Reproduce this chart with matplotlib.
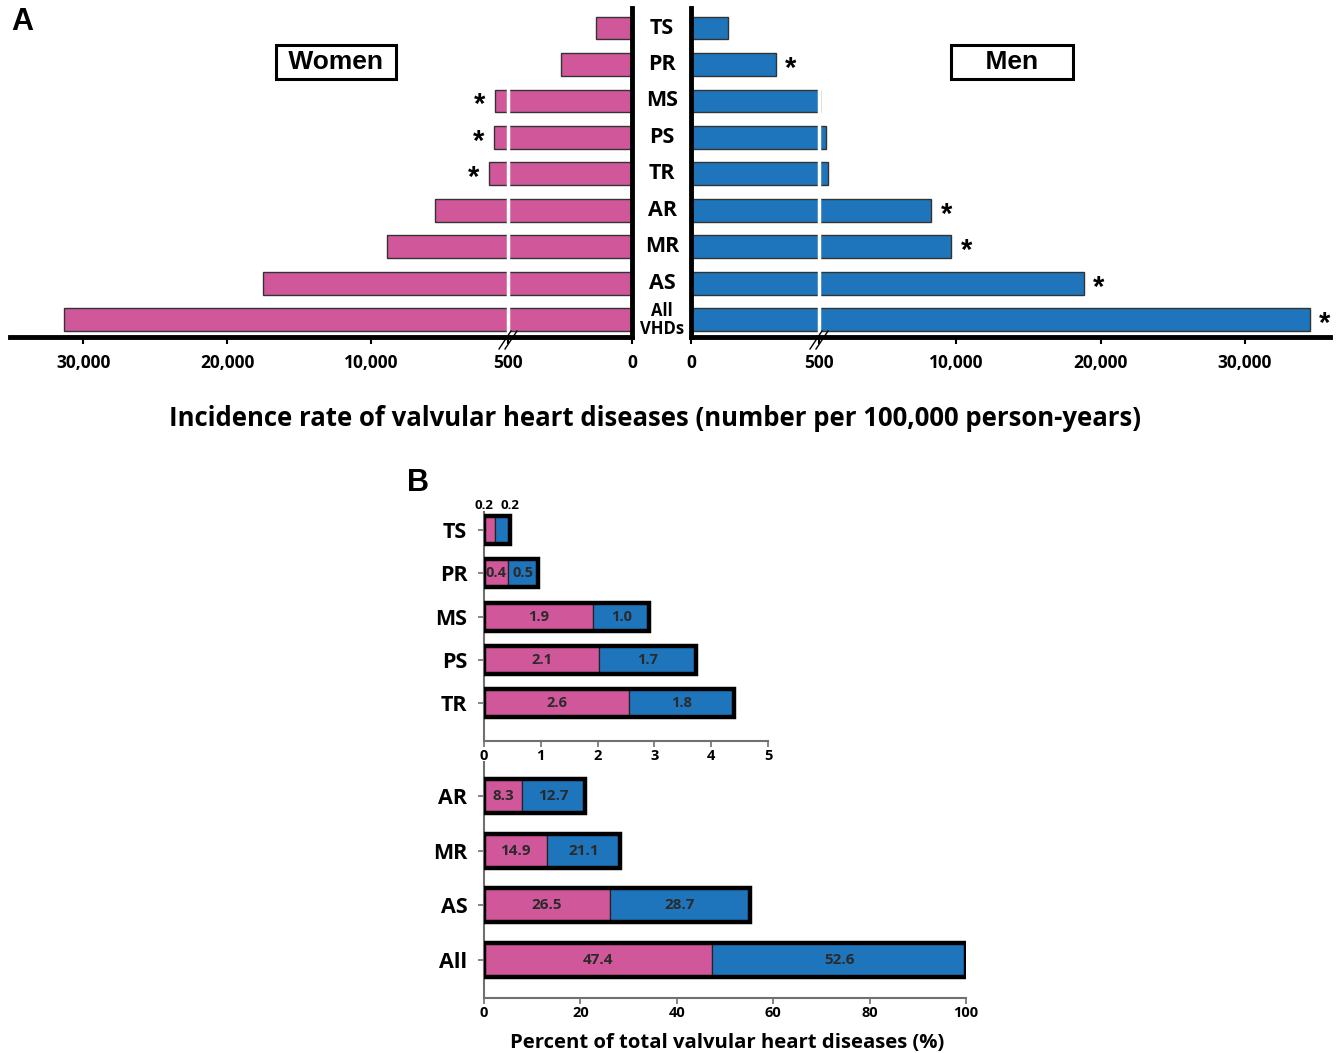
import numpy as np
import matplotlib
matplotlib.use('Agg')
import matplotlib.pyplot as plt
import matplotlib.transforms as mtransforms

plt.rcParams['font.family'] = ['Open Sans', 'DejaVu Sans']
plt.rcParams['font.weight'] = 'bold'

PINK = '#D1579B'
BLUE = '#1F75BB'

# ---- Panel A: incidence per 100,000 person-years ----
valves = ['TS', 'PR', 'MS', 'PS', 'TR', 'AR', 'MR', 'AS', 'All\nVHDs']
women_rate = [145, 286, 1400, 1470, 1820, 5570, 8900, 17500, 31300]
men_rate = [145, 332, 600, 990, 1130, 8280, 9670, 18830, 34500]
women_sig = [False, False, True, True, True, False, False, False, False]
men_sig = [False, True, False, False, False, True, True, True, True]
rate_ticks = [0, 500, 10000, 20000, 30000]
rate_tick_labels = ['0', '500', '10,000', '20,000', '30,000']

# ---- Panel B: percent of total VHDs ----
small_valves = ['TS', 'PR', 'MS', 'PS', 'TR']
small_women = [0.20, 0.42, 1.92, 2.03, 2.56]
small_men = [0.26, 0.53, 0.99, 1.70, 1.84]
small_women_lbl = ['0.2', '0.4', '1.9', '2.1', '2.6']
small_men_lbl = ['0.2', '0.5', '1.0', '1.7', '1.8']
big_valves = ['AR', 'MR', 'AS', 'All']
big_women = [7.9, 13.0, 26.2, 47.4]
big_men = [13.1, 15.2, 28.9, 52.6]
big_women_lbl = ['8.3', '14.9', '26.5', '47.4']
big_men_lbl = ['12.7', '21.1', '28.7', '52.6']


def broken(low, high):
    # 0-500 takes `low` units, every 10,000 above 500 takes `high` units
    def fwd(v):
        v = np.asarray(v, float)
        return np.where(v <= 500, v / 500 * low, low + (v - 500) / 10000 * high)

    def inv(u):
        u = np.asarray(u, float)
        return np.where(u <= low, u / low * 500, 500 + (u - low) / high * 10000)
    return fwd, inv


W, H = 1343, 1053
fig = plt.figure(figsize=(W / 100, H / 100), dpi=100)


def px_axes(x0, y0, x1, y1):
    return fig.add_axes([x0 / W, 1 - y1 / H, (x1 - x0) / W, (y1 - y0) / H])


ax_w = px_axes(10, 8, 632, 337)
ax_m = px_axes(691, 8, 1330, 337)

ypos = np.arange(len(valves))
for ax, vals, col, scl, lim in [(ax_w, women_rate, PINK, broken(124, 144), (35083, 0)),
                                (ax_m, men_rate, BLUE, broken(128, 144.4), (0, 35890))]:
    ax.set_xscale('function', functions=scl)
    ax.barh(ypos, vals, height=0.63, color=col, edgecolor='#333333', linewidth=1.0)
    ax.set_xlim(*lim)
    ax.set_ylim(len(valves) - 0.534, -0.548)
    ax.set_yticks([])
    ax.set_xticks(rate_ticks)
    ax.set_xticklabels(rate_tick_labels, fontsize=12.5, fontweight='bold')
    ax.tick_params(axis='x', direction='out', length=5, width=1.5, pad=7)
    for s in ax.spines.values():
        s.set_visible(False)
    ax.spines['bottom'].set_visible(True)
    ax.spines['bottom'].set_linewidth(3.5)
    ax.axvline(500, color='white', lw=2.5, zorder=2.2)

ax_w.spines['right'].set_visible(True)
ax_w.spines['right'].set_linewidth(3.5)
ax_m.spines['left'].set_visible(True)
ax_m.spines['left'].set_linewidth(3.5)


def break_marks(ax):
    xd = ax.transData.transform((500, 0))[0]
    xa = ax.transAxes.inverted().transform((xd, 0))[0]
    bw, bh = ax.bbox.width, ax.bbox.height
    for off in (-3, 3):
        xs = [xa + (off - 6) / bw, xa + (off + 6) / bw]
        ys = [-12 / bh, 6 / bh]
        ax.plot(xs, ys, color='black', lw=1.0, transform=ax.transAxes,
                clip_on=False, zorder=5)


break_marks(ax_w)
break_marks(ax_m)

# category names between the two halves
lab_tr = mtransforms.blended_transform_factory(fig.transFigure, ax_m.transData)
for i, v in enumerate(valves):
    fs = 15.5 if '\n' not in v else 12
    ax_m.text(662 / W, i, v, transform=lab_tr, ha='center', va='center',
              fontsize=fs, fontweight='bold', linespacing=1.0)

# significance asterisks
for i, (v, s) in enumerate(zip(women_rate, women_sig)):
    if s:
        ax_w.annotate('*', (v, i), xytext=(-15, -4), textcoords='offset pixels',
                      ha='center', va='center', fontsize=21, fontweight='bold',
                      family='Liberation Sans')
for i, (v, s) in enumerate(zip(men_rate, men_sig)):
    if s:
        ax_m.annotate('*', (v, i), xytext=(15, -4), textcoords='offset pixels',
                      ha='center', va='center', fontsize=21, fontweight='bold',
                      family='Liberation Sans')

box = dict(boxstyle='square,pad=0.2', facecolor='white', edgecolor='black', linewidth=2.2)
fig.text(336 / W, 1 - 62 / H, ' Women ', ha='center', va='center', fontsize=19,
         fontweight='bold', family='Liberation Sans', bbox=box)
fig.text(1012 / W, 1 - 62 / H, '    Men    ', ha='center', va='center', fontsize=19,
         fontweight='bold', family='Liberation Sans', bbox=box)

fig.text(655 / W, 1 - 418 / H,
         'Incidence rate of valvular heart diseases (number per 100,000 person-years)',
         ha='center', va='center', fontsize=18.5, fontweight='bold')

fig.text(22 / W, 1 - 22 / H, 'A', ha='center', va='center', fontsize=22,
         fontweight='bold', family='Liberation Sans')
fig.text(418 / W, 1 - 483 / H, 'B', ha='center', va='center', fontsize=22,
         fontweight='bold', family='Liberation Sans')

# ---- Panel B ----
ax_s = px_axes(484, 512, 768, 741)
ax_b = px_axes(484, 762, 966, 998)

GRAY = '#707070'


def stacked(ax, names, wv, mv, height, lim):
    y = np.arange(len(names))
    ax.barh(y, wv, height=height, color=PINK, edgecolor='#222222', linewidth=0.9)
    ax.barh(y, mv, left=wv, height=height, color=BLUE, edgecolor='#222222', linewidth=0.9)
    tot = np.array(wv) + np.array(mv)
    ax.barh(y, tot, height=height, fill=False, edgecolor='black', linewidth=3.2, zorder=3)
    ax.set_xlim(*lim)
    ax.set_yticks(y)
    ax.set_yticklabels(names, fontsize=15.5, fontweight='bold')
    for s in ['top', 'right']:
        ax.spines[s].set_visible(False)
    for s in ['left', 'bottom']:
        ax.spines[s].set_color(GRAY)
        ax.spines[s].set_linewidth(1.5)
    ax.tick_params(axis='both', colors=GRAY, direction='out', length=4, width=1.2)
    ax.tick_params(axis='y', pad=8, labelcolor='black')
    ax.tick_params(axis='x', pad=2, labelcolor='black', labelsize=10.5)
    return y


y = stacked(ax_s, small_valves, small_women, small_men, 0.65, (0, 5))
ax_s.set_ylim(len(small_valves) - 0.12, -0.42)
ax_s.set_xticks(range(6))
for t in ax_s.get_xticklabels():
    t.set_fontweight('bold')
for i in y:
    w, m = small_women[i], small_men[i]
    if i == 0:
        ax_s.annotate(small_women_lbl[i], (w / 2, i - 0.33), xytext=(-6, 4),
                      textcoords='offset pixels', ha='center', va='bottom',
                      fontsize=9.5, fontweight='bold')
        ax_s.annotate(small_men_lbl[i], (w + m / 2, i - 0.33), xytext=(7, 4),
                      textcoords='offset pixels', ha='center', va='bottom',
                      fontsize=9.5, fontweight='bold')
    else:
        ax_s.text(w / 2, i, small_women_lbl[i], ha='center', va='center',
                  fontsize=10.5, fontweight='bold', color='#2a2a2a')
        ax_s.text(w + m / 2, i, small_men_lbl[i], ha='center', va='center',
                  fontsize=10.5, fontweight='bold', color='#2a2a2a')

y = stacked(ax_b, big_valves, big_women, big_men, 0.62, (0, 100))
ax_b.set_ylim(len(big_valves) - 0.31, -0.62)
ax_b.set_xticks(range(0, 101, 20))
for t in ax_b.get_xticklabels():
    t.set_fontweight('bold')
for i in y:
    w, m = big_women[i], big_men[i]
    ax_b.text(w / 2, i, big_women_lbl[i], ha='center', va='center',
              fontsize=11, fontweight='bold', color='#2a2a2a')
    ax_b.text(w + m / 2, i, big_men_lbl[i], ha='center', va='center',
              fontsize=11, fontweight='bold', color='#2a2a2a')

fig.text(727 / W, 1 - 1043 / H, 'Percent of total valvular heart diseases (%)',
         ha='center', va='center', fontsize=14.6, fontweight='bold')

fig.savefig('out.png', dpi=100)
